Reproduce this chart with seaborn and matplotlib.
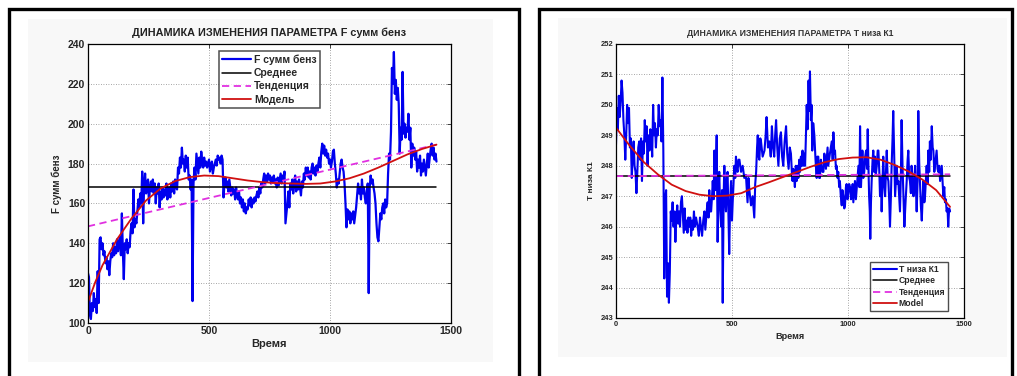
import numpy as np
import pandas as pd
import matplotlib
matplotlib.use("Agg")
import matplotlib.pyplot as plt
from matplotlib.patches import Rectangle
import seaborn as sns

# ---------------- DATA ----------------
# Left panel: F сумм бенз
left_t = [0, 4, 8, 12, 16, 20, 24, 28, 32, 36, 40, 44, 48, 52, 56, 60, 64, 68, 72, 76,
          80, 84, 88, 92, 96, 100, 104, 108, 112, 116, 120, 124, 128, 132, 136, 140, 144, 148, 152, 156,
          160, 164, 168, 172, 176, 180, 184, 188, 192, 196, 200, 204, 208, 212, 216, 220, 224, 228, 232, 236,
          240, 244, 248, 252, 256, 260, 264, 268, 272, 276, 280, 284, 288, 292, 296, 300, 304, 308, 312, 316,
          320, 324, 328, 332, 336, 340, 344, 348, 352, 356, 360, 364, 368, 372, 376, 380, 384, 388, 392, 396,
          400, 404, 408, 412, 416, 420, 424, 428, 432, 436, 440, 444, 448, 452, 456, 460, 464, 468, 472, 476,
          480, 484, 488, 492, 496, 500, 504, 508, 512, 516, 520, 524, 528, 532, 536, 540, 544, 548, 552, 556,
          560, 564, 568, 572, 576, 580, 584, 588, 592, 596, 600, 604, 608, 612, 616, 620, 624, 628, 632, 636,
          640, 644, 648, 652, 656, 660, 664, 668, 672, 676, 680, 684, 688, 692, 696, 700, 704, 708, 712, 716,
          720, 724, 728, 732, 736, 740, 744, 748, 752, 756, 760, 764, 768, 772, 776, 780, 784, 788, 792, 796,
          800, 804, 808, 812, 816, 820, 824, 828, 832, 836, 840, 844, 848, 852, 856, 860, 864, 868, 872, 876,
          880, 884, 888, 892, 896, 900, 904, 908, 912, 916, 920, 924, 928, 932, 936, 940, 944, 948, 952, 956,
          960, 964, 968, 972, 976, 980, 984, 988, 992, 996, 1000, 1004, 1008, 1012, 1016, 1020, 1024, 1028, 1032, 1036,
          1040, 1044, 1048, 1052, 1056, 1060, 1064, 1068, 1072, 1076, 1080, 1084, 1088, 1092, 1096, 1100, 1104, 1108, 1112, 1116,
          1120, 1124, 1128, 1132, 1136, 1140, 1144, 1148, 1152, 1156, 1160, 1164, 1168, 1172, 1176, 1180, 1184, 1188, 1192, 1196,
          1200, 1204, 1208, 1212, 1216, 1220, 1224, 1228, 1232, 1236, 1240, 1244, 1248, 1252, 1256, 1260, 1264, 1268, 1272, 1276,
          1280, 1284, 1288, 1292, 1296, 1300, 1304, 1308, 1312, 1316, 1320, 1324, 1328, 1332, 1336, 1340, 1344, 1348, 1352, 1356,
          1360, 1364, 1368, 1372, 1376, 1380, 1384, 1388, 1392, 1396, 1400, 1404, 1408, 1412, 1416, 1420, 1424, 1428, 1432, 1436,
          1440]
left_v = [125, 123, 104, 102, 110, 106, 115, 108, 112, 105, 126, 110, 142, 143, 137, 140, 134, 136, 130, 133,
          127, 131, 124, 131, 135, 133, 140, 134, 138, 135, 142, 136, 140, 143, 134, 155, 136, 122, 140, 137,
          142, 135, 140, 138, 146, 150, 145, 167, 148, 152, 150, 156, 162, 158, 165, 160, 176, 150, 170, 175,
          165, 170, 172, 160, 168, 171, 166, 172, 165, 170, 160, 168, 165, 170, 158, 166, 162, 168, 163, 167,
          164, 170, 162, 166, 168, 163, 170, 166, 171, 165, 172, 168, 167, 178, 175, 183, 178, 188, 180, 182,
          176, 184, 178, 183, 172, 174, 167, 172, 111, 170, 178, 172, 185, 180, 175, 183, 178, 186, 181, 178,
          183, 179, 181, 178, 180, 182, 176, 179, 181, 175, 178, 180, 182, 179, 184, 182, 183, 180, 184, 182,
          163, 170, 173, 168, 171, 166, 172, 168, 164, 168, 165, 167, 162, 168, 164, 162, 166, 160, 163, 158,
          162, 156, 160, 155, 158, 157, 162, 159, 163, 158, 162, 160, 163, 161, 164, 166, 163, 168, 165, 170,
          168, 172, 175, 170, 174, 171, 175, 172, 174, 170, 173, 171, 174, 170, 172, 168, 173, 169, 172, 175,
          170, 174, 172, 176, 150, 155, 160, 166, 158, 170, 167, 172, 165, 170, 174, 166, 171, 167, 172, 168,
          164, 171, 168, 175, 172, 178, 174, 178, 173, 176, 172, 178, 180, 175, 178, 174, 179, 176, 180, 183,
          178, 186, 190, 185, 189, 184, 187, 183, 185, 180, 182, 178, 181, 186, 187, 180, 175, 168, 172, 170,
          175, 180, 182, 178, 176, 170, 160, 148, 157, 152, 156, 150, 155, 152, 156, 150, 154, 158, 164, 170,
          165, 168, 162, 172, 165, 168, 163, 160, 166, 170, 115, 168, 174, 170, 172, 168, 165, 160, 150, 143,
          141, 148, 155, 152, 158, 160, 155, 162, 158, 160, 175, 185, 182, 196, 228, 220, 236, 215, 222, 212,
          218, 210, 185, 198, 192, 226, 195, 200, 193, 198, 196, 205, 192, 198, 178, 190, 184, 188, 182, 186,
          176, 182, 178, 184, 174, 180, 176, 182, 178, 174, 180, 185, 178, 183, 187, 190, 184, 188, 182, 185,
          181]
left_mean = 168.4
left_trend_t = [0, 1440]
left_trend_v = [148.5, 189.5]
left_model_t = [0, 30, 60, 120, 180, 240, 300, 360, 420, 480, 540, 600, 660, 720, 780, 840, 900, 960,
                1020, 1080, 1140, 1200, 1260, 1320, 1380, 1440]
left_model_v = [110.5, 120.5, 129, 142, 152.5, 161.5, 167.5, 171.2, 173.2, 174, 173.7, 172.6, 171.5, 170.7,
                170.2, 170, 169.8, 170, 171, 172.6, 175, 178, 181.3, 184.6, 187.3, 189.5]

# Right panel: Т низа К1
right_t = [0, 4, 8, 12, 16, 20, 24, 28, 32, 36, 40, 44, 48, 52, 56, 60, 64, 68, 72, 76,
           80, 84, 88, 92, 96, 100, 104, 108, 112, 116, 120, 124, 128, 132, 136, 140, 144, 148, 152, 156,
           160, 164, 168, 172, 176, 180, 184, 188, 192, 196, 200, 204, 208, 212, 216, 220, 224, 228, 232, 236,
           240, 244, 248, 252, 256, 260, 264, 268, 272, 276, 280, 284, 288, 292, 296, 300, 304, 308, 312, 316,
           320, 324, 328, 332, 336, 340, 345, 352, 357, 362, 366, 371, 376, 381, 385, 388, 392, 395, 399, 402,
           406, 410, 414, 417, 421, 424, 429, 434, 438, 441, 445, 449, 453, 457, 460, 464, 467, 471, 474, 478,
           481, 485, 488, 492, 496, 500, 503, 507, 510, 514, 517, 521, 524, 528, 532, 539, 546, 553, 560, 567,
           571, 575, 582, 589, 596, 600, 604, 608, 611, 615, 618, 622, 625, 632, 640, 645, 649, 655, 661, 667,
           672, 677, 682, 686, 690, 695, 700, 706, 711, 716, 721, 727, 733, 738, 744, 749, 754, 758, 761, 764,
           768, 771, 775, 779, 782, 786, 790, 793, 797, 800, 804, 807, 811, 815, 818, 822, 826, 830, 833, 836,
           840, 843, 846, 850, 855, 860, 865, 868, 872, 876, 879, 883, 886, 890, 894, 898, 901, 905, 908, 912,
           915, 922, 930, 934, 937, 941, 944, 948, 951, 955, 958, 962, 965, 969, 973, 976, 980, 984, 987, 991,
           994, 998, 1001, 1005, 1009, 1013, 1016, 1020, 1023, 1027, 1030, 1034, 1037, 1041, 1045, 1049, 1052, 1056, 1062, 1066,
           1070, 1074, 1078, 1082, 1085, 1088, 1091, 1094, 1096, 1099, 1102, 1106, 1109, 1113, 1116, 1120, 1124, 1128, 1131, 1135,
           1138, 1142, 1145, 1149, 1152, 1156, 1160, 1164, 1167, 1171, 1174, 1178, 1181, 1185, 1188, 1192, 1195, 1199, 1203, 1207,
           1210, 1214, 1217, 1221, 1224, 1228, 1231, 1235, 1239, 1243, 1248, 1253, 1257, 1260, 1264, 1267, 1271, 1274, 1278, 1282,
           1286, 1289, 1293, 1296, 1300, 1303, 1307, 1310, 1314, 1318, 1322, 1325, 1329, 1332, 1336, 1339, 1343, 1346, 1350, 1353,
           1357, 1361, 1365, 1368, 1372, 1375, 1379, 1382, 1386, 1389, 1393, 1397, 1401, 1404, 1408, 1411, 1415, 1418, 1422, 1425,
           1429, 1432, 1436, 1440]
right_v = [248.7, 249.9, 249.2, 250.3, 249.6, 250.1, 250.8, 250.4, 249.5, 249.0, 248.2, 249.0, 250.0, 249.4, 249.9, 248.6, 248.9, 247.6, 248.3, 248.8,
           248.0, 247.8, 247.1, 247.8, 248.6, 248.8, 248.2, 248.9, 247.5, 248.8, 248.4, 249.5, 248.8, 249.3, 248.0, 249.0, 248.5, 249.2, 249.0, 248.3,
           250.0, 249.0, 249.4, 248.6, 249.2, 249.0, 250.0, 249.3, 249.5, 248.8, 250.9, 248.5, 244.3, 246.9, 247.2, 243.7, 244.8, 243.5, 244.5, 246.5,
           246.2, 246.8, 246.0, 246.5, 245.5, 246.3, 246.7, 246.1, 246.5, 246.0, 246.8, 247.0, 246.4, 245.8, 246.6, 245.9, 246.2, 245.8, 246.3, 246.0,
           246.3, 245.7, 246.2, 245.9, 246.5, 246.0, 246.3, 246.0, 245.7, 246.3, 246.0, 245.7, 246.2, 246.5, 245.9, 246.2, 246.6, 246.8, 246.3, 247.2,
           246.5, 246.5, 247.0, 247.5, 246.9, 248.5, 247.2, 249.0, 245.5, 246.8, 247.8, 246.6, 246.0, 247.2, 243.5, 247.0, 248.0, 246.8, 246.5, 247.6,
           247.8, 246.2, 245.1, 246.8, 247.5, 246.2, 246.8, 247.5, 248.0, 247.6, 248.3, 247.9, 247.8, 248.2, 248.2, 247.8, 248.0, 247.6, 247.7, 246.8,
           247.6, 247.2, 246.7, 247.0, 246.3, 247.4, 247.8, 248.6, 249.0, 248.3, 248.2, 248.9, 248.8, 248.3, 248.5, 249.0, 249.6, 248.6, 248.8, 248.3,
           249.3, 248.6, 248.3, 249.0, 249.5, 248.6, 248.0, 248.9, 249.1, 248.3, 248.0, 248.8, 249.3, 248.4, 247.9, 248.6, 248.4, 247.8, 247.5, 247.9,
           247.6, 247.3, 248.0, 247.5, 248.0, 247.6, 248.2, 247.8, 248.3, 248.0, 248.5, 248.0, 248.4, 248.0, 248.8, 250.0, 249.2, 250.8, 249.8, 251.1,
           249.5, 250.0, 248.5, 249.4, 249.0, 248.2, 247.6, 248.3, 248.3, 247.6, 247.6, 248.2, 248.0, 247.8, 247.8, 248.4, 248.2, 247.9, 248.2, 248.6,
           248.0, 248.4, 248.8, 248.2, 249.1, 248.4, 248.5, 247.9, 248.0, 247.6, 247.8, 247.3, 247.5, 247.0, 246.7, 247.2, 247.0, 246.6, 246.7, 247.3,
           247.4, 246.9, 247.1, 247.4, 247.3, 246.9, 247.0, 247.4, 246.8, 247.2, 247.5, 246.9, 247.2, 247.6, 248.0, 247.3, 249.3, 247.3, 248.5, 247.6,
           247.8, 248.3, 248.5, 247.9, 249.2, 248.0, 247.0, 246.5, 245.6, 246.8, 247.5, 248.2, 248.5, 247.8, 248.3, 247.7, 248.0, 248.5, 248.5, 247.8,
           247.0, 247.6, 246.5, 247.5, 248.3, 247.4, 247.0, 247.9, 248.5, 247.6, 247.5, 246.8, 246.0, 247.0, 248.0, 248.9, 249.8, 248.4, 247.0, 247.6,
           248.0, 247.4, 247.5, 246.9, 246.5, 247.7, 249.5, 248.0, 247.0, 246.0, 246.8, 247.5, 248.2, 248.5, 247.6, 247.5, 247.1, 248.0, 247.6, 247.0,
           247.4, 248.0, 247.2, 246.5, 247.5, 249.8, 248.1, 247.5, 246.7, 246.2, 247.0, 247.5, 246.8, 247.0, 247.6, 248.0, 247.4, 248.5, 247.8, 248.8,
           248.2, 249.3, 248.6, 248.5, 247.8, 248.0, 248.3, 248.5, 247.9, 247.8, 248.0, 247.5, 247.8, 248.0, 247.4, 247.0, 247.3, 246.8, 246.9, 246.5,
           246.6, 246.0, 246.6, 246.5]
right_mean = 247.68
right_trend_t = [0, 1440]
right_trend_v = [247.66, 247.72]
right_model_t = [0, 60, 120, 180, 240, 300, 360, 420, 480, 540, 600, 660, 720, 780, 840, 900, 960,
                 1020, 1080, 1140, 1200, 1260, 1320, 1380, 1440]
right_model_v = [249.25, 248.65, 248.12, 247.72, 247.38, 247.17, 247.05, 247.0, 247.02, 247.1, 247.3, 247.46,
                 247.63, 247.8, 247.97, 248.12, 248.22, 248.27, 248.28, 248.2, 248.03, 247.82, 247.55, 247.2, 246.65]

# ---------------- STYLE ----------------
sns.set_style("white")
plt.rcParams['font.family'] = ['Liberation Sans', 'DejaVu Sans']
plt.rcParams['font.weight'] = 'bold'

W, H = 1017, 376
fig = plt.figure(figsize=(W / 100, H / 100), dpi=100)
fig.patch.set_facecolor('white')


def fx(px):
    return px / W


def fy(py):
    return 1 - py / H


# light inner panels and outer frames
for (x0, y0, x1, y1) in [(28, 19, 493, 362), (558, 18, 1007, 357)]:
    fig.patches.append(Rectangle((fx(x0), fy(y1)), fx(x1 - x0), (y1 - y0) / H,
                                 transform=fig.transFigure, facecolor='#f8f8f8',
                                 edgecolor='none', zorder=-5))
for (x0, x1) in [(8.5, 519), (538.5, 1012)]:
    fig.patches.append(Rectangle((fx(x0), -0.05), fx(x1 - x0), fy(8.5) + 0.05,
                                 transform=fig.transFigure, facecolor='none',
                                 edgecolor='black', linewidth=2.4, zorder=10))

BLUE = '#0000ee'
RED = '#d01010'
MAG = '#e030e0'


def draw(ax, t, v, mean, tr_t, tr_v, m_t, m_v, labels, fs, blw):
    df = pd.DataFrame({'t': t, 'v': v})
    sns.lineplot(data=df, x='t', y='v', ax=ax, color=BLUE, lw=blw, label=labels[0],
                 estimator=None, sort=False)
    dmean = pd.DataFrame({'t': [t[0], t[-1]], 'v': [mean, mean]})
    sns.lineplot(data=dmean, x='t', y='v', ax=ax, color='black', lw=1.1, label=labels[1],
                 estimator=None)
    dtr = pd.DataFrame({'t': tr_t, 'v': tr_v})
    sns.lineplot(data=dtr, x='t', y='v', ax=ax, color=MAG, lw=1.3, label=labels[2],
                 estimator=None)
    ax.lines[-1].set_dashes([4, 2.5])
    dm = pd.DataFrame({'t': m_t, 'v': m_v})
    sns.lineplot(data=dm, x='t', y='v', ax=ax, color=RED, lw=1.3, label=labels[3],
                 estimator=None)
    ax.set_xlim(0, 1500)
    ax.set_xticks([0, 500, 1000, 1500])
    ax.grid(True, linestyle=(0, (1, 2)), color='#888888', linewidth=0.6)
    ax.tick_params(direction='in', top=True, right=True, length=3, width=0.6,
                   labelsize=fs, pad=2)
    for s in ax.spines.values():
        s.set_color('black')
        s.set_linewidth(0.9)
    for lab in ax.get_xticklabels() + ax.get_yticklabels():
        lab.set_fontweight('bold')


# Left panel
axL = fig.add_axes([fx(88), fy(323), fx(451 - 88), (323 - 44) / H])
draw(axL, left_t, left_v, left_mean, left_trend_t, left_trend_v, left_model_t, left_model_v,
     ['F сумм бенз', 'Среднее', 'Тенденция', 'Модель'], 7.5, 1.6)
axL.set_ylim(100, 240)
axL.set_yticks(np.arange(100, 241, 20))
axL.set_xlabel('Время', fontsize=8, fontweight='bold', labelpad=2)
axL.set_ylabel('F сумм бенз', fontsize=7, fontweight='bold', labelpad=4)
axL.set_title('ДИНАМИКА ИЗМЕНЕНИЯ ПАРАМЕТРА F сумм бенз', fontsize=7.8,
              fontweight='bold', pad=6, color='#222222')
legL = axL.legend(loc='upper center', bbox_to_anchor=(0.5, 0.975), fontsize=7.5,
                  frameon=True, fancybox=False, edgecolor='#222222', handlelength=2.8,
                  handletextpad=0.25, borderpad=0.35, labelspacing=0.3, borderaxespad=0)
legL.get_frame().set_linewidth(1.1)
for tx in legL.get_texts():
    tx.set_fontweight('bold')

# Right panel
axR = fig.add_axes([fx(616), fy(318), fx(964 - 616), (318 - 44) / H])
draw(axR, right_t, right_v, right_mean, right_trend_t, right_trend_v, right_model_t, right_model_v,
     ['Т низа К1', 'Среднее', 'Тенденция', 'Model'], 5.4, 1.5)
axR.set_ylim(243, 252)
axR.set_yticks(np.arange(243, 253, 1))
axR.set_xlabel('Время', fontsize=6.6, fontweight='bold', labelpad=3)
axR.set_ylabel('Т низа К1', fontsize=6, fontweight='bold', labelpad=4)
axR.set_title('ДИНАМИКА ИЗМЕНЕНИЯ ПАРАМЕТРА Т низа К1', fontsize=6.2,
              fontweight='bold', pad=6, color='#333333')
legR = axR.legend(loc='lower right', bbox_to_anchor=(0.954, 0.026), fontsize=6.2,
                  frameon=True, fancybox=False, edgecolor='#222222', handlelength=2.8,
                  handletextpad=0.25, borderpad=0.3, labelspacing=0.3, borderaxespad=0)
legR.get_frame().set_linewidth(1.0)
for tx in legR.get_texts():
    tx.set_fontweight('bold')

fig.savefig('out.png', dpi=100)
